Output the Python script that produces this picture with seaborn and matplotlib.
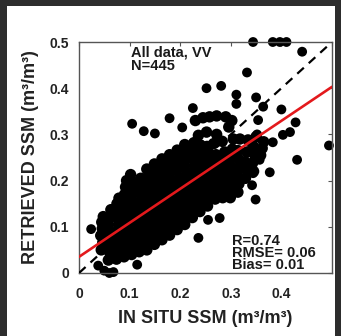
import matplotlib
matplotlib.use("Agg")
import numpy as np
import pandas as pd
import seaborn as sns
import matplotlib.pyplot as plt
from matplotlib.patches import Rectangle

# dense part of the cloud
cloud_x = [
    0.044, 0.047, 0.043, 0.046, 0.045, 0.048,
    0.058, 0.061, 0.059, 0.062, 0.060, 0.058, 0.061, 0.063,
    0.074, 0.077, 0.075, 0.073, 0.076, 0.078, 0.074, 0.076, 0.075, 0.079,
    0.089, 0.091, 0.088, 0.092, 0.090, 0.087, 0.091, 0.093, 0.089, 0.090, 0.092, 0.094,
    0.104, 0.106, 0.103, 0.107, 0.105, 0.104, 0.106, 0.108, 0.103, 0.105, 0.107, 0.102,
    0.119, 0.121, 0.118, 0.122, 0.120, 0.119, 0.121, 0.123, 0.118, 0.120, 0.122,
    0.134, 0.136, 0.133, 0.137, 0.135, 0.134, 0.136, 0.138, 0.133, 0.135, 0.137, 0.134,
    0.149, 0.151, 0.148, 0.152, 0.150, 0.149, 0.151, 0.153, 0.148, 0.150, 0.152, 0.149,
    0.164, 0.166, 0.163, 0.167, 0.165, 0.164, 0.166, 0.168, 0.163, 0.165, 0.167, 0.164,
    0.179, 0.181, 0.178, 0.182, 0.180, 0.179, 0.181, 0.183, 0.178, 0.180, 0.182, 0.179,
    0.194, 0.196, 0.193, 0.197, 0.195, 0.194, 0.196, 0.198, 0.193, 0.195, 0.197, 0.194,
    0.209, 0.211, 0.208, 0.212, 0.210, 0.209, 0.211, 0.213, 0.208, 0.210, 0.212, 0.209,
    0.224, 0.226, 0.223, 0.227, 0.225, 0.224, 0.226, 0.228, 0.223, 0.225, 0.227, 0.230,
    0.239, 0.241, 0.238, 0.242, 0.240, 0.239, 0.241, 0.243, 0.238, 0.240, 0.236, 0.245,
    0.254, 0.256, 0.253, 0.257, 0.255, 0.254, 0.256, 0.258, 0.253, 0.252, 0.258,
    0.269, 0.271, 0.268, 0.272, 0.270, 0.269, 0.271, 0.266, 0.272, 0.272,
    0.284, 0.286, 0.283, 0.287, 0.285, 0.284, 0.288, 0.283, 0.290, 0.296,
    0.299, 0.301, 0.298, 0.302, 0.300, 0.299, 0.303, 0.305, 0.302,
    0.314, 0.316, 0.313, 0.317, 0.315, 0.314, 0.318,
    0.329, 0.331, 0.328, 0.332, 0.334,
    0.345, 0.343, 0.347, 0.344, 0.350,
    0.359, 0.362, 0.365,
]
cloud_y = [
    0.050, 0.066, 0.081, 0.096, 0.110, 0.122,
    0.028, 0.044, 0.060, 0.075, 0.090, 0.104, 0.120, 0.137,
    0.030, 0.045, 0.061, 0.076, 0.091, 0.105, 0.121, 0.136, 0.150, 0.162,
    0.035, 0.050, 0.066, 0.080, 0.095, 0.110, 0.126, 0.140, 0.155, 0.170, 0.186, 0.200,
    0.040, 0.056, 0.071, 0.087, 0.102, 0.118, 0.133, 0.149, 0.164, 0.180, 0.196, 0.213,
    0.046, 0.062, 0.078, 0.094, 0.110, 0.126, 0.142, 0.158, 0.174, 0.190, 0.205,
    0.050, 0.066, 0.082, 0.098, 0.114, 0.130, 0.146, 0.162, 0.178, 0.194, 0.210, 0.225,
    0.062, 0.078, 0.094, 0.110, 0.126, 0.142, 0.158, 0.174, 0.190, 0.206, 0.221, 0.236,
    0.072, 0.088, 0.104, 0.120, 0.136, 0.152, 0.168, 0.184, 0.200, 0.216, 0.232, 0.247,
    0.082, 0.098, 0.114, 0.130, 0.146, 0.162, 0.178, 0.194, 0.210, 0.226, 0.242, 0.256,
    0.094, 0.110, 0.126, 0.142, 0.158, 0.174, 0.190, 0.206, 0.222, 0.238, 0.253, 0.266,
    0.105, 0.121, 0.137, 0.153, 0.170, 0.186, 0.202, 0.218, 0.234, 0.250, 0.266, 0.278,
    0.120, 0.136, 0.152, 0.168, 0.184, 0.200, 0.216, 0.232, 0.248, 0.264, 0.282, 0.330,
    0.133, 0.149, 0.165, 0.181, 0.197, 0.213, 0.229, 0.245, 0.261, 0.277, 0.298, 0.336,
    0.145, 0.162, 0.178, 0.194, 0.210, 0.226, 0.242, 0.258, 0.274, 0.305, 0.338,
    0.160, 0.176, 0.192, 0.208, 0.224, 0.240, 0.256, 0.280, 0.300, 0.340,
    0.163, 0.179, 0.195, 0.211, 0.227, 0.243, 0.262, 0.285, 0.338, 0.316,
    0.163, 0.180, 0.197, 0.214, 0.231, 0.248, 0.268, 0.290, 0.330,
    0.175, 0.193, 0.211, 0.229, 0.247, 0.265, 0.290,
    0.205, 0.223, 0.241, 0.262, 0.288,
    0.220, 0.238, 0.256, 0.275, 0.295,
    0.255, 0.270, 0.284,
]

# scattered points outside the main band
outlier_x = [0.344, 0.383, 0.397, 0.410, 0.441, 0.332, 0.252, 0.281, 0.311, 0.350,
             0.311, 0.364, 0.400, 0.428, 0.354, 0.352, 0.403, 0.417, 0.383, 0.494,
             0.431, 0.377, 0.344, 0.342, 0.349, 0.357, 0.105, 0.128, 0.150, 0.179,
             0.225, 0.204, 0.236, 0.115, 0.024, 0.038, 0.050, 0.060, 0.068, 0.278,
             0.255]
outlier_y = [0.500, 0.500, 0.500, 0.500, 0.479, 0.434, 0.400, 0.405, 0.386, 0.380,
             0.366, 0.360, 0.354, 0.326, 0.331, 0.300, 0.299, 0.305, 0.283, 0.276,
             0.245, 0.218, 0.216, 0.190, 0.159, 0.245, 0.323, 0.307, 0.302, 0.335,
             0.357, 0.315, 0.076, 0.018, 0.095, 0.016, 0.005, 0.000, 0.002, 0.119,
             0.115]

# 1:1 line and the red regression line
one_to_one = [0.0, 0.5]
fit_x = [0.0, 0.5]
fit_y = [0.035, 0.403]

x_ticks = [0, 0.1, 0.2, 0.3, 0.4, 0.5]
x_tick_labels = ["0", "0.1", "0.2", "0.3", "0.4", ""]
y_ticks = [0, 0.1, 0.2, 0.3, 0.4, 0.5]
y_tick_labels = ["0", "0.1", "0.2", "0.3", "0.4", "0.5"]

info_text = "All data, VV\nN=445"
stat_text = "R=0.74\nRMSE= 0.06\nBias= 0.01"

sns.set_theme(style="white")
plt.rcParams["font.family"] = ["Liberation Sans", "DejaVu Sans"]
plt.rcParams["font.weight"] = "bold"

cloud = pd.DataFrame({"insitu": cloud_x, "retrieved": cloud_y})
spread = pd.DataFrame({"insitu": outlier_x, "retrieved": outlier_y})

fig = plt.figure(figsize=(3.41, 3.36), dpi=100)
fig.patch.set_facecolor("white")
ax = fig.add_axes([79 / 341, 63 / 336, 253 / 341, 231 / 336])

sns.scatterplot(data=cloud, x="insitu", y="retrieved", ax=ax, color="black",
                s=68, edgecolor="none", clip_on=False, zorder=2)
sns.scatterplot(data=spread, x="insitu", y="retrieved", ax=ax, color="black",
                s=50, edgecolor="none", clip_on=False, zorder=2)
sns.lineplot(x=one_to_one, y=one_to_one, ax=ax, color="black", lw=1.6, zorder=3)
ax.lines[-1].set_dashes((4, 3))
sns.lineplot(x=fit_x, y=fit_y, ax=ax, color="#e3191c", lw=1.9, zorder=4)

ax.set_xlim(0, 0.5)
ax.set_ylim(0, 0.5)
ax.set_xticks(x_ticks)
ax.set_xticklabels(x_tick_labels)
ax.set_yticks(y_ticks)
ax.set_yticklabels(y_tick_labels)
ax.tick_params(direction="in", length=3, width=0.8, top=True, right=True,
               labelsize=10, labelcolor="#222222", color="#555555")
ax.tick_params(axis="x", pad=10)
ax.tick_params(axis="y", pad=7)
for sp in ax.spines.values():
    sp.set_color("#555555")
    sp.set_linewidth(1.0)

ax.set_xlabel("IN SITU SSM (m³/m³)", fontsize=13, fontweight="bold", color="#222222")
ax.set_ylabel("RETRIEVED SSM (m³/m³)", fontsize=13, fontweight="bold", color="#222222")
ax.xaxis.set_label_coords(0.5, -0.16)
ax.yaxis.set_label_coords(-0.16, 0.5)

ax.text(0.103, 0.493, info_text, fontsize=10.5, fontweight="bold", va="top",
        linespacing=0.95, color="#1a1a1a", zorder=5)
ax.text(0.302, 0.002, stat_text, fontsize=10.5, fontweight="bold", va="bottom",
        linespacing=0.82, color="#1a1a1a", zorder=5)

# dark screenshot border on the left, top and right
for rect in [(0, 0, 7 / 341, 1), (0, 1 - 6 / 336, 1, 6 / 336), (335 / 341, 0, 6 / 341, 1)]:
    fig.patches.append(Rectangle(rect[:2], rect[2], rect[3], transform=fig.transFigure,
                                 facecolor="#2d2d2d", edgecolor="none", zorder=10))

fig.savefig("out.png", dpi=100)
